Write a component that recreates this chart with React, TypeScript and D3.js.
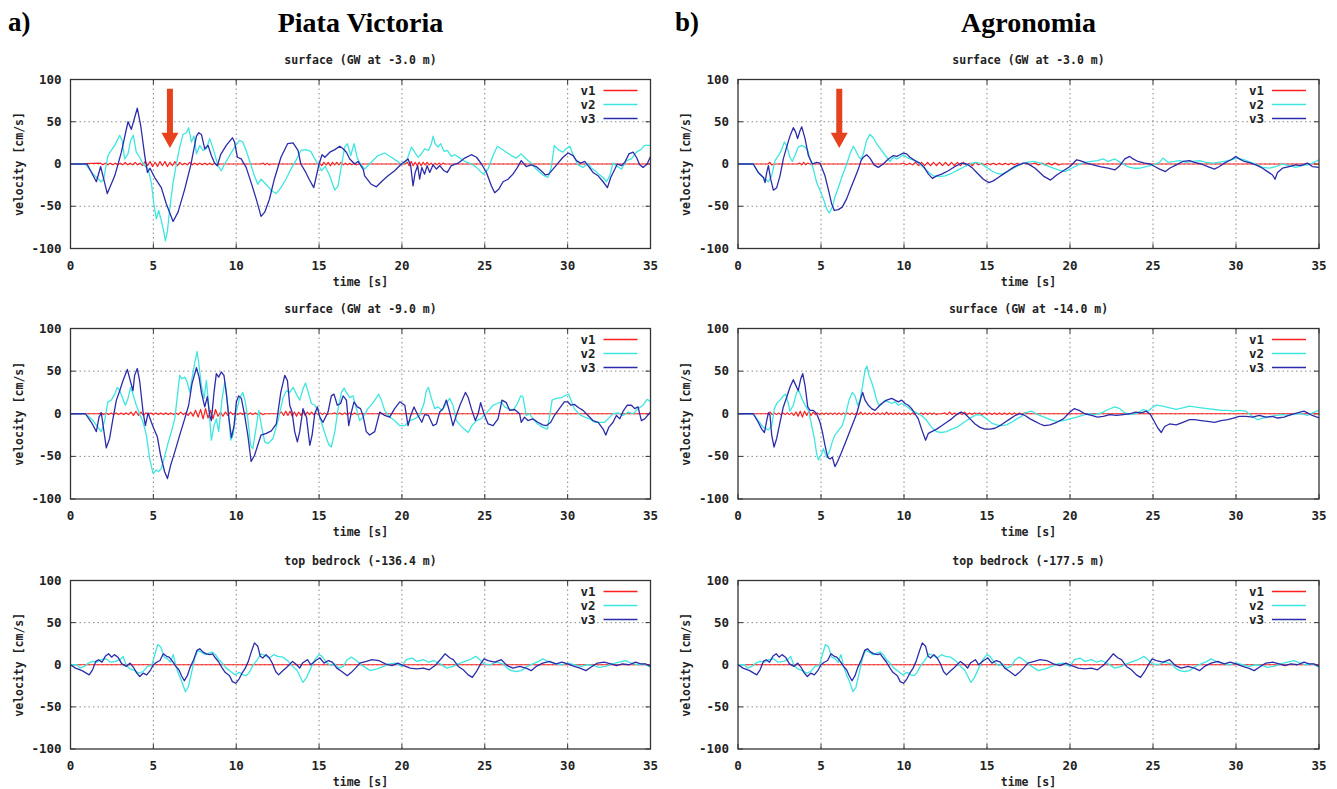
import React, { useRef, useEffect } from 'react';
import * as d3 from 'd3';

type Pt = [number, number];
type Burst = { t0: number; dt: number; vals: number[] };

const timeTicks = [0, 5, 10, 15, 20, 25, 30, 35];
const velTicks = [-100, -50, 0, 50, 100];
const seriesNames = ['v1', 'v2', 'v3'];
const seriesColors = ['#ff1f1f', '#3fe6e0', '#2c2cab'];

// ---- a) Piata Victoria, surface (GW at -3.0 m)
const aTopV1: Burst[] = [
  { t0: 1.8, dt: 0.15, vals: [1, -1, 1, -1, 1, -1, 1, -1, 1, -1, 2, -1, 1, -1, 2, -1, 1, -2, 3, -2, 3, -3, 2, -3, 3, -2, 3, -3, 2, -2, 3, -2, 2, -1, 1, -1, 2, -1, 1, -1, 1, -1, 1, -1, 1, -1, 1, -1, 0] },
  { t0: 11.5, dt: 0.12, vals: [0, 1, -1, 1, -1, 0] },
  { t0: 14.9, dt: 0.13, vals: [0, 1, -2, 2, -1, 2, -2, 2, -1, 2, -1, 2, -1, 1, -1, 1, -1, 1, -1, 0] },
  { t0: 20.2, dt: 0.12, vals: [0, 2, -2, 3, -2, 2, -2, 2, -2, 2, -1, 2, -1, 1, -1, 1, -1, 1, -1, 1, 0] },
];
const aTopV2: Pt[] = [[0,0],[0.9,0],[1.36,-12],[1.86,-21],[2.0,-18],[2.26,10],[2.46,16],[2.67,22],[2.97,34],[3.11,28],[3.27,6],[3.47,12],[3.63,28],[3.79,34],[3.97,14],[4.17,8],[4.38,0],[4.68,-6],[4.88,-22],[5.04,-49],[5.18,-65],[5.32,-55],[5.48,-67],[5.64,-81],[5.72,-91],[5.84,-81],[5.99,-53],[6.19,-22],[6.39,0],[6.59,20],[6.79,35],[6.99,37],[7.13,43],[7.3,26],[7.45,33],[7.6,12],[7.8,22],[8.0,16],[8.2,18],[8.4,30],[8.54,22],[8.7,12],[8.9,-2],[9.1,-8],[9.3,0],[9.6,10],[9.9,20],[10.2,28],[10.4,26],[10.6,16],[10.87,0],[11.1,-14],[11.3,-24],[11.5,-18],[11.8,-24],[12.1,-31],[12.4,-35],[12.7,-28],[13.0,-18],[13.3,-6],[13.6,4],[13.9,16],[14.2,17],[14.5,15],[14.74,6],[14.94,0],[15.14,-8],[15.38,-3],[15.64,-14],[15.95,-31],[16.15,-26],[16.35,-2],[16.55,20],[16.71,24],[16.91,10],[17.11,24],[17.31,7],[17.5,0],[17.75,-6],[18.15,2],[18.56,10],[18.96,13],[19.36,8],[19.66,4],[19.97,0],[20.27,3],[20.57,20],[20.77,14],[20.97,8],[21.13,11],[21.37,18],[21.6,16],[21.78,24],[21.88,33],[22.0,24],[22.18,20],[22.34,24],[22.54,15],[22.74,16],[22.98,9],[23.18,11],[23.5,7],[23.8,3],[24.2,0],[24.5,-4],[24.9,-12],[25.2,-6],[25.5,10],[25.76,21],[26.0,18],[26.3,14],[26.6,10],[26.9,7],[27.2,12],[27.5,6],[27.8,1],[28.1,-6],[28.5,-13],[28.8,-16],[29.0,-5],[29.2,22],[29.42,17],[29.72,14],[29.9,18],[30.13,21],[30.33,11],[30.63,-1],[30.93,-4],[31.23,1],[31.43,-5],[31.67,-8],[31.88,-12],[32.14,-16],[32.34,-21],[32.54,-14],[32.74,1],[32.94,-2],[33.25,-6],[33.55,4],[33.85,6],[34.15,14],[34.41,17],[34.65,22],[35,22]];
const aTopV3: Pt[] = [[0,0],[1.0,0],[1.56,-21],[1.82,-3],[2.22,-35],[2.67,-14],[3.07,14],[3.47,50],[3.67,41],[4.03,66],[4.24,45],[4.48,10],[4.64,-10],[4.8,-5],[5.08,-16],[5.48,-28],[5.78,-47],[6.19,-68],[6.49,-57],[6.89,-30],[7.25,-2],[7.6,33],[7.74,37],[7.9,35],[8.1,18],[8.3,22],[8.5,10],[8.7,1],[8.86,-2],[9.06,11],[9.4,22],[9.77,31],[9.9,26],[10.07,8],[10.3,6],[10.6,-4],[10.9,-22],[11.2,-41],[11.5,-62],[11.72,-57],[12.0,-42],[12.3,-18],[12.7,8],[13.1,24],[13.43,25],[13.73,16],[13.9,0],[14.2,-10],[14.4,-18],[14.68,-28],[14.84,-14],[15.0,0],[15.18,11],[15.35,8],[15.65,14],[15.95,17],[16.25,21],[16.45,18],[16.65,14],[16.85,6],[17.15,0],[17.35,3],[17.66,-6],[17.75,-14],[18.15,-24],[18.46,-27],[18.76,-21],[19.16,-14],[19.56,-8],[19.97,0],[20.37,6],[20.53,-2],[20.67,-26],[20.8,-10],[20.95,-2],[21.07,-18],[21.2,-4],[21.37,-12],[21.52,-2],[21.68,-10],[21.88,-1],[22.08,-6],[22.28,-2],[22.54,-8],[22.74,-10],[22.98,-2],[23.39,1],[23.79,7],[24.19,11],[24.5,8],[24.8,0],[25.1,-10],[25.4,-26],[25.6,-34],[25.84,-30],[26.1,-21],[26.4,-18],[26.7,-12],[26.97,-4],[27.2,4],[27.5,-3],[27.8,-1],[28.1,-3],[28.4,-8],[28.66,-13],[28.86,-12],[29.12,-6],[29.42,1],[29.72,8],[30.03,13],[30.33,10],[30.53,4],[30.79,1],[31.03,3],[31.23,-2],[31.53,-10],[31.84,-14],[32.14,-21],[32.4,-28],[32.6,-16],[32.8,-8],[33.0,0],[33.25,-2],[33.45,2],[33.7,12],[33.95,14],[34.15,8],[34.35,-1],[34.55,-4],[34.8,0],[35,9]];

// ---- a) Piata Victoria, surface (GW at -9.0 m)
const aMidV1: Burst[] = [
  { t0: 1.7, dt: 0.15, vals: [0, 1, -1, 1, -1, 1, -1, 1, -1, 1, -1, 1, -1, 2, -2, 3, -2, 2, -2, 1, -1, 1, -1, 1, -1, 1, -1, 1, -1, 1, -1, 1, -1, 2, -1, 1, -2, 2, -3, 4, -4, 5, -6, 6, -5, 4, -6, 5, -3, 2, -3, 2, -2, 2, -1, 1, -1, 1, -1, 1, -1, 1, -1, 1, -1, 1, -1, 0] },
  { t0: 12.6, dt: 0.13, vals: [0, 2, -2, 3, -2, 3, -3, 2, -3, 2, -2, 2, -2, 2, -1, 2, -1, 1, -1, 1, -1, 1, -1, 0] },
  { t0: 15.8, dt: 0.15, vals: [0, 1, -1, 1, -1, 1, -1, 1, -1, 1, -1, 0] },
];
const aMidV2: Pt[] = [[0,0],[0.9,0],[1.36,-8],[1.66,-16],[1.86,-21],[2.06,-8],[2.26,14],[2.46,16],[2.67,23],[2.83,31],[2.97,27],[3.13,19],[3.31,10],[3.47,18],[3.63,31],[3.77,23],[3.97,10],[4.17,0],[4.38,-10],[4.58,-25],[4.78,-53],[4.98,-70],[5.18,-66],[5.32,-68],[5.48,-64],[5.64,-53],[5.85,-37],[6.09,-21],[6.29,-6],[6.45,21],[6.59,45],[6.73,41],[6.89,43],[7.05,37],[7.19,25],[7.33,41],[7.5,60],[7.64,73],[7.76,56],[7.9,33],[8.06,18],[8.2,39],[8.34,10],[8.5,-31],[8.66,-14],[8.8,-6],[8.94,-21],[9.15,18],[9.31,37],[9.47,14],[9.67,-31],[9.81,-25],[10.0,2],[10.2,18],[10.4,25],[10.55,14],[10.7,-6],[10.87,-37],[11.0,-41],[11.22,-14],[11.36,4],[11.52,-14],[11.72,-33],[11.92,-35],[12.22,-29],[12.52,-8],[12.83,19],[13.03,27],[13.23,25],[13.43,31],[13.63,23],[13.83,16],[14.03,29],[14.18,36],[14.38,23],[14.54,12],[14.74,10],[14.94,4],[15.14,-10],[15.38,-25],[15.58,-36],[15.74,-39],[15.95,-21],[16.15,6],[16.35,25],[16.51,30],[16.65,25],[16.85,19],[17.05,21],[17.25,6],[17.45,-8],[17.65,-4],[17.95,6],[18.26,13],[18.46,19],[18.6,23],[18.76,16],[18.96,4],[19.26,-4],[19.56,-8],[19.87,-14],[20.17,-14],[20.47,-8],[20.77,-6],[21.07,-2],[21.33,12],[21.47,27],[21.6,31],[21.78,18],[21.98,6],[22.18,8],[22.42,4],[22.68,12],[22.88,18],[23.08,10],[23.28,-8],[23.5,-13],[23.75,-18],[24.0,-22],[24.23,-14],[24.5,-8],[24.75,-6],[25.0,-1],[25.24,4],[25.5,10],[25.76,12],[26.0,14],[26.2,8],[26.4,6],[26.7,4],[26.97,12],[27.17,21],[27.3,20],[27.5,-2],[27.7,0],[27.9,-6],[28.2,-12],[28.5,-16],[28.78,-18],[28.92,-2],[29.06,16],[29.32,18],[29.62,19],[29.92,22],[30.06,23],[30.2,16],[30.4,6],[30.73,-1],[31.03,-4],[31.33,-6],[31.63,-10],[31.93,-10],[32.23,-10],[32.54,-4],[32.74,0],[33.04,1],[33.35,-2],[33.65,2],[33.95,0],[34.25,6],[34.55,10],[34.8,17],[35,14]];
const aMidV3: Pt[] = [[0,0],[0.9,0],[1.26,-10],[1.56,-21],[1.72,-4],[1.86,1],[2.02,-21],[2.16,-40],[2.36,-29],[2.56,-6],[2.77,16],[2.97,27],[3.17,39],[3.43,52],[3.63,37],[3.77,27],[3.87,45],[4.03,53],[4.17,39],[4.38,2],[4.52,-14],[4.68,1],[4.88,-10],[5.04,-18],[5.24,-27],[5.44,-49],[5.68,-68],[5.85,-76],[6.05,-60],[6.29,-45],[6.59,-25],[6.89,-6],[7.13,10],[7.33,35],[7.6,54],[7.76,43],[7.9,25],[8.1,8],[8.26,20],[8.4,-2],[8.5,-8],[8.66,25],[8.8,47],[8.94,43],[9.1,49],[9.26,45],[9.4,25],[9.55,-4],[9.71,-28],[9.87,-14],[10.01,14],[10.15,21],[10.31,18],[10.51,-2],[10.7,-25],[10.9,-56],[11.1,-49],[11.3,-37],[11.5,-25],[11.82,-23],[12.12,-20],[12.42,-12],[12.69,25],[12.93,45],[13.09,39],[13.23,10],[13.37,2],[13.53,-21],[13.69,-33],[13.83,-21],[14.03,6],[14.24,-4],[14.44,-37],[14.58,-25],[14.74,0],[14.9,8],[15.04,-4],[15.24,-10],[15.54,2],[15.74,21],[15.9,23],[16.1,10],[16.3,12],[16.45,21],[16.65,16],[16.79,-14],[16.95,2],[17.11,14],[17.31,8],[17.5,6],[17.65,-2],[17.85,-21],[18.05,-25],[18.36,-21],[18.66,2],[18.96,-2],[19.26,-4],[19.56,6],[19.87,14],[20.17,10],[20.37,-14],[20.53,-2],[20.73,8],[20.97,-2],[21.2,-10],[21.37,-1],[21.6,-2],[21.88,-14],[22.08,-12],[22.28,2],[22.48,6],[22.68,16],[22.88,2],[23.08,-14],[23.28,-2],[23.5,10],[23.7,19],[23.83,25],[24.0,19],[24.19,6],[24.43,-8],[24.6,0],[24.75,13],[24.95,0],[25.2,-12],[25.5,-14],[25.8,-6],[26.04,16],[26.3,13],[26.5,4],[26.8,5],[27.1,0],[27.2,-10],[27.4,-4],[27.6,-8],[27.9,-6],[28.2,-10],[28.5,-13],[28.7,-14],[28.98,-10],[29.2,-2],[29.5,6],[29.8,14],[30.0,14],[30.2,10],[30.4,11],[30.67,7],[30.93,4],[31.23,-2],[31.53,-8],[31.84,-10],[32.14,-18],[32.3,-25],[32.48,-16],[32.74,-10],[32.94,-2],[33.15,-6],[33.35,3],[33.6,10],[33.85,10],[34.05,6],[34.25,8],[34.45,-8],[34.65,-6],[35,2]];

// ---- b) Agronomia, surface (GW at -3.0 m)
const bTopV1: Burst[] = [
  { t0: 1.8, dt: 0.12, vals: [0, 2, -1, 0] },
  { t0: 3.6, dt: 0.12, vals: [0, 1, -1, 2, -1, 1, 0] },
  { t0: 9.8, dt: 0.18, vals: [0, 1, -1, 1, -1, 2, -2, 2, -2, 2, -2, 2, -2, 2, -2, 2, -2, 2, -2, 2, -2, 2, -2, 1, -2, 2, -1, 1, -1, 1, -1, 1, -1, 1, -1, 1, -1, 1, -1, 1, -1, 1, 0] },
  { t0: 17.7, dt: 0.2, vals: [0, 1, -1, 1, -1, 1, -1, 1, -1, 0] },
];
const bTopV2: Pt[] = [[0,0],[0.92,0],[1.22,-10],[1.53,-16],[1.83,-21],[2.03,-14],[2.23,4],[2.47,11],[2.63,17],[2.79,26],[2.93,22],[3.13,8],[3.27,3],[3.43,10],[3.63,20],[3.84,22],[4.04,20],[4.2,16],[4.34,6],[4.54,-6],[4.74,-22],[4.94,-31],[5.14,-41],[5.34,-53],[5.5,-58],[5.68,-51],[5.84,-39],[6.04,-28],[6.28,-14],[6.55,0],[6.75,12],[6.95,21],[7.09,16],[7.29,8],[7.41,6],[7.55,12],[7.75,28],[7.95,35],[8.15,31],[8.35,24],[8.65,16],[8.96,8],[9.16,3],[9.36,8],[9.56,6],[9.76,8],[9.96,11],[10.16,8],[10.36,6],[10.66,4],[10.96,0],[11.27,-6],[11.5,-10],[11.77,-14],[12.07,-15],[12.47,-14],[12.87,-11],[13.27,-7],[13.67,-3],[14.08,1],[14.38,2],[14.68,0],[14.98,-4],[15.28,-8],[15.58,-11],[15.88,-12],[16.18,-10],[16.49,-6],[16.79,-3],[17.09,0],[17.4,2],[17.8,3],[18.2,1],[18.6,-2],[19.0,-5],[19.3,-7],[19.7,-9],[20.1,-5],[20.5,-1],[20.9,2],[21.3,3],[21.65,4],[22.0,6],[22.3,3],[22.7,6],[23.1,1],[23.45,-3],[23.85,-5],[24.2,-5],[24.6,-3],[25.0,-1],[25.4,2],[25.6,7],[25.9,2],[26.3,3],[26.6,4],[27.0,2],[27.4,3],[27.8,4],[28.2,2],[28.6,1],[28.95,2],[29.3,3],[29.7,5],[30.1,7],[30.5,5],[30.9,2],[31.3,-1],[31.6,-4],[32.0,-5],[32.4,-3],[32.8,0],[33.2,-2],[33.6,-4],[33.95,-2],[34.3,-1],[34.6,1],[35,5]];
const bTopV3: Pt[] = [[0,0],[0.92,0],[1.22,-10],[1.53,-16],[1.63,-22],[1.73,-10],[1.83,-2],[1.97,-18],[2.13,-31],[2.33,-28],[2.53,-14],[2.73,6],[2.93,20],[3.13,33],[3.33,43],[3.47,38],[3.59,30],[3.73,39],[3.84,44],[4.04,30],[4.24,10],[4.48,0],[4.74,2],[4.94,1],[5.08,-6],[5.24,-14],[5.44,-30],[5.64,-47],[5.8,-55],[6.04,-54],[6.28,-51],[6.55,-41],[6.8,-28],[7.05,-16],[7.25,-6],[7.41,4],[7.55,8],[7.75,11],[7.95,7],[8.2,-1],[8.45,-4],[8.75,0],[9.06,6],[9.36,10],[9.56,9],[9.76,11],[9.96,13],[10.16,12],[10.36,8],[10.66,4],[10.96,1],[11.22,-4],[11.47,-12],[11.71,-17],[11.97,-14],[12.27,-12],[12.67,-8],[13.07,-3],[13.47,1],[13.78,0],[14.08,-4],[14.38,-10],[14.78,-18],[15.12,-22],[15.38,-20],[15.68,-16],[15.98,-12],[16.28,-8],[16.59,-4],[16.89,-1],[17.19,1],[17.4,1],[17.9,-5],[18.45,-15],[18.83,-19],[19.2,-13],[19.6,-8],[20.0,-3],[20.4,5],[20.6,4],[21.0,1],[21.4,-1],[21.8,-3],[22.3,-5],[22.7,-7],[23.0,-2],[23.3,6],[23.6,9],[23.8,6],[24.1,3],[24.5,1],[24.85,0],[25.1,-3],[25.4,-6],[25.75,-9],[26.0,-5],[26.4,-1],[26.8,3],[27.2,4],[27.5,2],[27.9,0],[28.3,-3],[28.7,-6],[29.0,-3],[29.3,1],[29.7,5],[30.0,9],[30.2,6],[30.5,3],[30.9,1],[31.3,-2],[31.6,-5],[31.9,-9],[32.2,-13],[32.35,-18],[32.5,-10],[32.8,-5],[33.2,-3],[33.6,-1],[33.9,-2],[34.3,1],[34.6,-3],[35,-4]];

// ---- b) Agronomia, surface (GW at -14.0 m)
const bMidV1: Burst[] = [
  { t0: 1.8, dt: 0.13, vals: [0, 2, -1, 1, -1, 1, -1, 1, -1, 1, -1, 1, -2, 2, -3, 3, -4, 3, -2, 3, -2, 2, -1, 1, -1, 1, -1, 1, -1, 1, -1, 1, -1, 1, -1, 1, -1, 1, -1, 1, -1, 1, -1, 2, -1, 1, -1, 1, -1, 1, -1, 1, -1, 1, -1, 2, -1, 1, -1, 1, -1, 1, -1, 1, -1, 1, -1, 1, -1, 1, -1, 1, -1, 1, -1, 1, -1, 1, -1, 0] },
  { t0: 12.3, dt: 0.15, vals: [0, 1, -1, 2, -1, 1, -1, 1, -1, 2, -1, 1, -1, 1, -1, 1, -1, 1, -1, 1, -1, 1, -1, 1, -1, 1, -1, 1, -1, 1, -1, 1, -1, 1, 0] },
];
const bMidV2: Pt[] = [[0,0],[0.92,0],[1.22,-8],[1.53,-16],[1.83,-19],[2.03,-14],[2.19,6],[2.33,12],[2.53,16],[2.73,21],[2.87,23],[3.03,12],[3.13,3],[3.33,10],[3.53,25],[3.67,27],[3.84,18],[4.04,10],[4.24,4],[4.4,-10],[4.6,-29],[4.74,-47],[4.84,-54],[5.0,-49],[5.14,-41],[5.34,-51],[5.5,-45],[5.68,-33],[5.84,-25],[6.08,-19],[6.28,-14],[6.49,0],[6.69,16],[6.89,25],[7.05,21],[7.21,10],[7.35,16],[7.49,31],[7.65,51],[7.77,56],[7.89,45],[8.05,37],[8.21,27],[8.35,16],[8.49,10],[8.65,11],[8.86,16],[9.06,14],[9.26,12],[9.46,14],[9.66,10],[9.86,12],[10.06,10],[10.26,7],[10.46,4],[10.76,1],[11.06,-2],[11.37,-8],[11.67,-16],[11.97,-21],[12.23,-22],[12.57,-21],[12.87,-18],[13.17,-16],[13.47,-12],[13.78,-8],[14.08,-4],[14.38,-1],[14.68,-2],[14.98,-6],[15.28,-11],[15.58,-13],[15.88,-14],[16.18,-13],[16.49,-10],[16.79,-6],[17.09,-3],[17.29,1],[17.7,3],[18.05,-1],[18.45,-4],[18.8,-7],[19.2,-9],[19.6,-8],[20.0,-6],[20.4,-4],[20.75,-2],[21.1,0],[21.5,-1],[21.9,1],[22.3,5],[22.7,8],[23.0,6],[23.3,1],[23.7,-1],[24.1,1],[24.4,5],[24.7,3],[25.0,8],[25.2,10],[25.6,9],[26.0,7],[26.4,5],[26.8,7],[27.2,9],[27.5,8],[27.9,7],[28.3,6],[28.7,5],[29.1,4],[29.5,4],[29.85,3],[30.2,4],[30.6,3],[30.9,-2],[31.3,-7],[31.6,-5],[32.0,-4],[32.4,-2],[32.8,-1],[33.2,-2],[33.6,0],[33.95,0],[34.3,-2],[34.6,1],[35,4]];
const bMidV3: Pt[] = [[0,0],[0.92,0],[1.22,-10],[1.43,-18],[1.59,-22],[1.73,-8],[1.83,1],[1.93,-2],[2.03,-25],[2.17,-39],[2.33,-29],[2.53,-10],[2.73,8],[2.93,19],[3.13,31],[3.33,40],[3.49,33],[3.63,27],[3.78,41],[3.9,47],[4.04,33],[4.2,8],[4.34,4],[4.54,4],[4.74,0],[4.94,-10],[5.08,-21],[5.24,-37],[5.4,-51],[5.54,-53],[5.68,-51],[5.84,-62],[6.0,-56],[6.2,-47],[6.45,-35],[6.69,-23],[6.95,-10],[7.15,0],[7.29,10],[7.41,19],[7.51,25],[7.65,16],[7.85,10],[8.05,6],[8.25,4],[8.45,8],[8.65,12],[8.96,16],[9.26,18],[9.46,16],[9.66,14],[9.86,16],[10.06,12],[10.26,10],[10.46,6],[10.66,0],[10.86,-6],[11.06,-18],[11.3,-31],[11.47,-23],[11.67,-21],[11.97,-18],[12.27,-14],[12.57,-10],[12.87,-6],[13.17,-1],[13.43,2],[13.67,0],[13.98,-6],[14.28,-12],[14.58,-16],[14.88,-18],[15.18,-18],[15.48,-17],[15.78,-14],[16.08,-10],[16.39,-6],[16.69,-2],[16.99,0],[17.29,-2],[17.6,-6],[17.8,-8],[18.2,-12],[18.45,-14],[18.8,-13],[19.2,-10],[19.6,-6],[20.0,2],[20.25,6],[20.55,4],[20.9,0],[21.3,-2],[21.65,-4],[22.0,-3],[22.4,-1],[22.8,-2],[23.2,-1],[23.6,0],[23.95,2],[24.3,1],[24.6,3],[24.85,-1],[25.1,-10],[25.3,-17],[25.5,-22],[25.7,-15],[26.0,-12],[26.4,-13],[26.8,-10],[27.2,-7],[27.5,-7],[27.9,-8],[28.3,-9],[28.7,-10],[29.1,-8],[29.5,-7],[29.85,-5],[30.2,-3],[30.6,-3],[31.0,-4],[31.4,-2],[31.8,-4],[32.2,-3],[32.5,-5],[32.9,-4],[33.3,-1],[33.7,1],[34.1,3],[34.3,1],[34.6,-2],[35,-5]];

// ---- top bedrock (same input motion at both sites)
const rockV1: Burst[] = [];
const rockV2: Pt[] = [[0,0],[0.4,0],[0.57,-4],[0.83,-2],[1.08,2],[1.33,4],[1.6,3],[1.84,6],[2.15,7],[2.4,3],[2.73,4],[3.0,6],[3.17,10],[3.37,-1],[3.6,-5],[3.87,-7],[4.13,-10],[4.38,-8],[4.64,-2],[4.9,-1],[5.1,13],[5.27,24],[5.45,21],[5.65,9],[5.86,7],[6.03,3],[6.2,12],[6.37,-2],[6.54,-12],[6.7,-19],[6.93,-32],[7.1,-27],[7.3,-10],[7.5,8],[7.68,17],[7.9,15],[8.14,12],[8.4,14],[8.57,15],[8.75,12],[8.95,6],[9.16,2],[9.4,-4],[9.67,-8],[9.92,-12],[10.17,-9],[10.43,-12],[10.6,-13],[10.8,-9],[11.0,-1],[11.24,5],[11.5,13],[11.75,11],[12.0,8],[12.26,12],[12.5,10],[12.82,9],[13.15,4],[13.4,-2],[13.65,-6],[13.83,-13],[14.03,-21],[14.25,-15],[14.5,-4],[14.74,6],[15.0,12],[15.18,10],[15.43,3],[15.7,-1],[15.95,1],[16.2,-4],[16.45,-2],[16.7,6],[16.95,9],[17.2,6],[17.53,0],[17.85,-4],[18.1,-7],[18.5,-5],[18.9,-2],[19.25,1],[19.6,2],[20.0,-2],[20.26,6],[20.6,8],[20.9,4],[21.3,6],[21.6,3],[21.9,5],[22.3,1],[22.7,-4],[23.1,-2],[23.4,1],[23.8,4],[24.1,6],[24.45,10],[24.7,6],[24.95,1],[25.3,0],[25.7,3],[26.1,1],[26.35,-4],[26.6,-7],[26.9,-8],[27.2,-7],[27.55,-2],[27.9,1],[28.25,4],[28.5,7],[28.9,3],[29.3,1],[29.65,0],[30.0,2],[30.4,0],[30.8,-2],[31.2,0],[31.6,-1],[31.9,-3],[32.3,-2],[32.7,1],[33.1,3],[33.5,5],[33.85,2],[34.2,0],[34.6,1],[35,-3]];
const rockV3: Pt[] = [[0,0],[0.3,-4],[0.7,-7],[0.95,-10],[1.13,-12],[1.33,-6],[1.53,4],[1.7,6],[1.9,3],[2.1,10],[2.3,13],[2.48,9],[2.65,12],[2.86,9],[3.1,1],[3.37,-2],[3.6,2],[3.8,-3],[4.0,-10],[4.18,-14],[4.38,-10],[4.6,-12],[4.84,-6],[5.0,0],[5.2,3],[5.4,5],[5.6,13],[5.8,10],[5.95,9],[6.16,4],[6.36,-2],[6.54,-6],[6.7,-13],[6.87,-19],[7.05,-13],[7.2,-4],[7.43,6],[7.63,17],[7.8,19],[8.0,15],[8.2,13],[8.4,12],[8.57,13],[8.75,8],[8.95,3],[9.16,-4],[9.33,-9],[9.6,-13],[9.77,-20],[9.97,-22],[10.17,-17],[10.35,-10],[10.55,-4],[10.73,4],[10.94,17],[11.1,26],[11.3,22],[11.45,10],[11.6,8],[11.8,12],[12.0,8],[12.2,1],[12.38,-8],[12.56,-12],[12.76,-8],[13.0,-4],[13.2,0],[13.4,4],[13.65,0],[13.83,-4],[14.0,2],[14.3,6],[14.5,0],[14.8,5],[15.05,8],[15.3,2],[15.56,5],[15.8,3],[16.07,-4],[16.37,-8],[16.7,-13],[16.95,-9],[17.2,-4],[17.46,2],[17.85,4],[18.2,6],[18.6,5],[19.0,1],[19.4,-1],[19.75,2],[20.1,-1],[20.5,-4],[20.9,-5],[21.3,-4],[21.65,-6],[22.0,-1],[22.4,8],[22.6,13],[22.9,8],[23.1,6],[23.4,-2],[23.7,-6],[24.0,-12],[24.25,-15],[24.5,-8],[24.75,1],[24.95,7],[25.2,5],[25.6,3],[26.0,6],[26.35,-1],[26.7,-4],[27.1,-2],[27.5,-4],[27.8,-7],[28.1,-2],[28.5,2],[28.9,4],[29.3,1],[29.65,3],[30.0,1],[30.4,-2],[30.75,-4],[31.1,-7],[31.4,-3],[31.8,2],[32.2,3],[32.6,1],[32.95,-1],[33.3,1],[33.7,0],[34.1,3],[34.4,1],[34.7,1],[35,-2]];

const siteLetters = ['a)', 'b)'];
const siteNames = ['Piata Victoria', 'Agronomia'];
const panelTitles = [
  ['surface (GW at -3.0 m)', 'surface (GW at -9.0 m)', 'top bedrock (-136.4 m)'],
  ['surface (GW at -3.0 m)', 'surface (GW at -14.0 m)', 'top bedrock (-177.5 m)'],
];
const panelSeries = [
  [[aTopV1, aTopV2, aTopV3], [aMidV1, aMidV2, aMidV3], [rockV1, rockV2, rockV3]],
  [[bTopV1, bTopV2, bTopV3], [bMidV1, bMidV2, bMidV3], [rockV1, rockV2, rockV3]],
];
// arrow annotation on the top row: [time, upper end, head base, tip] in data units
const arrowMarks = [[6.0, 89, 37, 19], [6.1, 89, 37, 19]];

const cols = [{ x0: 70.5, x1: 650.5 }, { x0: 738, x1: 1319 }];
const rows = [{ top: 79.5, bottom: 248.5 }, { top: 328.5, bottom: 499 }, { top: 580.5, bottom: 749 }];

const mono = '"DejaVu Sans Mono", monospace';

function burstsToPoints(bursts: Burst[]): Pt[] {
  const pts: Pt[] = [[0, 0]];
  bursts.forEach((b) => {
    b.vals.forEach((v, i) => pts.push([b.t0 + i * b.dt, v]));
  });
  pts.push([35, 0]);
  return pts;
}

function App() {
  const svgRef = useRef<SVGSVGElement>(null);

  useEffect(() => {
    const svg = d3.select(svgRef.current);
    svg.selectAll('*').remove();

    svg.append('rect').attr('width', 1337).attr('height', 789).attr('fill', '#fff');

    cols.forEach((c, ci) => {
      const cx = (c.x0 + c.x1) / 2;
      svg.append('text').attr('x', ci === 0 ? 8 : 675).attr('y', 31)
        .attr('font-family', '"Liberation Serif", serif').attr('font-weight', 'bold')
        .attr('font-size', 27).text(siteLetters[ci]);
      svg.append('text').attr('x', cx).attr('y', 32).attr('text-anchor', 'middle')
        .attr('font-family', '"Liberation Serif", serif').attr('font-weight', 'bold')
        .attr('font-size', 28).text(siteNames[ci]);

      rows.forEach((r, ri) => {
        const x = d3.scaleLinear().domain([0, 35]).range([c.x0, c.x1]);
        const y = d3.scaleLinear().domain([-100, 100]).range([r.bottom, r.top]);
        const g = svg.append('g');
        const clipId = `clip-${ci}-${ri}`;
        g.append('clipPath').attr('id', clipId).append('rect')
          .attr('x', c.x0).attr('y', r.top).attr('width', c.x1 - c.x0).attr('height', r.bottom - r.top);

        // grid
        g.selectAll('.vgrid').data(timeTicks.slice(1, -1)).join('line')
          .attr('x1', (d) => x(d)).attr('x2', (d) => x(d)).attr('y1', r.top).attr('y2', r.bottom)
          .attr('stroke', '#8a8a8a').attr('stroke-width', 1).attr('stroke-dasharray', '1.5,3');
        g.selectAll('.hgrid').data(velTicks.slice(1, -1)).join('line')
          .attr('x1', c.x0).attr('x2', c.x1).attr('y1', (d) => y(d)).attr('y2', (d) => y(d))
          .attr('stroke', '#8a8a8a').attr('stroke-width', 1).attr('stroke-dasharray', '1.5,3');

        // ticks (mirrored on all sides)
        const tk = g.append('g').attr('stroke', '#333').attr('stroke-width', 1);
        timeTicks.forEach((t) => {
          tk.append('line').attr('x1', x(t)).attr('x2', x(t)).attr('y1', r.bottom).attr('y2', r.bottom - 5);
          tk.append('line').attr('x1', x(t)).attr('x2', x(t)).attr('y1', r.top).attr('y2', r.top + 5);
        });
        velTicks.forEach((v) => {
          tk.append('line').attr('x1', c.x0).attr('x2', c.x0 + 5).attr('y1', y(v)).attr('y2', y(v));
          tk.append('line').attr('x1', c.x1).attr('x2', c.x1 - 5).attr('y1', y(v)).attr('y2', y(v));
        });

        // series
        const line = d3.line<Pt>().x((d) => x(d[0])).y((d) => y(d[1]));
        const [s1, s2, s3] = panelSeries[ci][ri];
        const data = [burstsToPoints(s1 as Burst[]), s2 as Pt[], s3 as Pt[]];
        g.append('g').attr('clip-path', `url(#${clipId})`)
          .selectAll('path').data(data).join('path')
          .attr('d', (d) => line(d))
          .attr('fill', 'none')
          .attr('stroke', (d, i) => seriesColors[i])
          .attr('stroke-width', (d, i) => (i === 0 ? 1.2 : 1.3))
          .attr('stroke-linejoin', 'round');

        // border
        g.append('rect').attr('x', c.x0).attr('y', r.top)
          .attr('width', c.x1 - c.x0).attr('height', r.bottom - r.top)
          .attr('fill', 'none').attr('stroke', '#333').attr('stroke-width', 1.3);

        // tick labels
        g.selectAll('.xl').data(timeTicks).join('text')
          .attr('x', (d) => x(d)).attr('y', r.bottom + 21).attr('text-anchor', 'middle')
          .attr('font-family', mono).attr('font-weight', 'bold').attr('font-size', 12.5).attr('fill', '#222')
          .text((d) => d);
        g.selectAll('.yl').data(velTicks).join('text')
          .attr('x', c.x0 - 9).attr('y', (d) => y(d) + 4).attr('text-anchor', 'end')
          .attr('font-family', mono).attr('font-weight', 'bold').attr('font-size', 12.5).attr('fill', '#222')
          .text((d) => d);

        // axis titles
        g.append('text').attr('x', cx).attr('y', r.bottom + 37).attr('text-anchor', 'middle')
          .attr('font-family', mono).attr('font-weight', 'bold').attr('font-size', 11.5).attr('fill', '#222')
          .text('time [s]');
        const ymid = (r.top + r.bottom) / 2;
        g.append('text').attr('transform', `translate(${c.x0 - 48},${ymid}) rotate(-90)`)
          .attr('text-anchor', 'middle')
          .attr('font-family', mono).attr('font-weight', 'bold').attr('font-size', 11.5).attr('fill', '#222')
          .text('velocity [cm/s]');
        g.append('text').attr('x', cx).attr('y', r.top - 16).attr('text-anchor', 'middle')
          .attr('font-family', mono).attr('font-weight', 'bold').attr('font-size', 11.5).attr('fill', '#222')
          .text(panelTitles[ci][ri]);

        // legend
        seriesNames.forEach((name, i) => {
          const ly = r.top + 11 + i * 14;
          g.append('text').attr('x', c.x1 - 55).attr('y', ly + 4).attr('text-anchor', 'end')
            .attr('font-family', mono).attr('font-weight', 'bold').attr('font-size', 12.5).attr('fill', '#222')
            .text(name);
          g.append('line').attr('x1', c.x1 - 47).attr('x2', c.x1 - 13).attr('y1', ly).attr('y2', ly)
            .attr('stroke', seriesColors[i]).attr('stroke-width', 1.5);
        });

        // red arrow
        if (ri === 0) {
          const [at, aTop, aBase, aTip] = arrowMarks[ci];
          const ax = x(at);
          const pts = [
            [ax - 3, y(aTop)], [ax + 3, y(aTop)], [ax + 3, y(aBase)], [ax + 8.5, y(aBase)],
            [ax, y(aTip)], [ax - 8.5, y(aBase)], [ax - 3, y(aBase)],
          ];
          g.append('polygon').attr('points', pts.map((p) => p.join(',')).join(' '))
            .attr('fill', '#e5421d');
        }
      });
    });
  }, []);

  return (
    <svg
      ref={svgRef}
      width={1337}
      height={789}
      style={{ position: 'absolute', left: 0, top: 0, display: 'block' }}
    />
  );
}

export default App;
